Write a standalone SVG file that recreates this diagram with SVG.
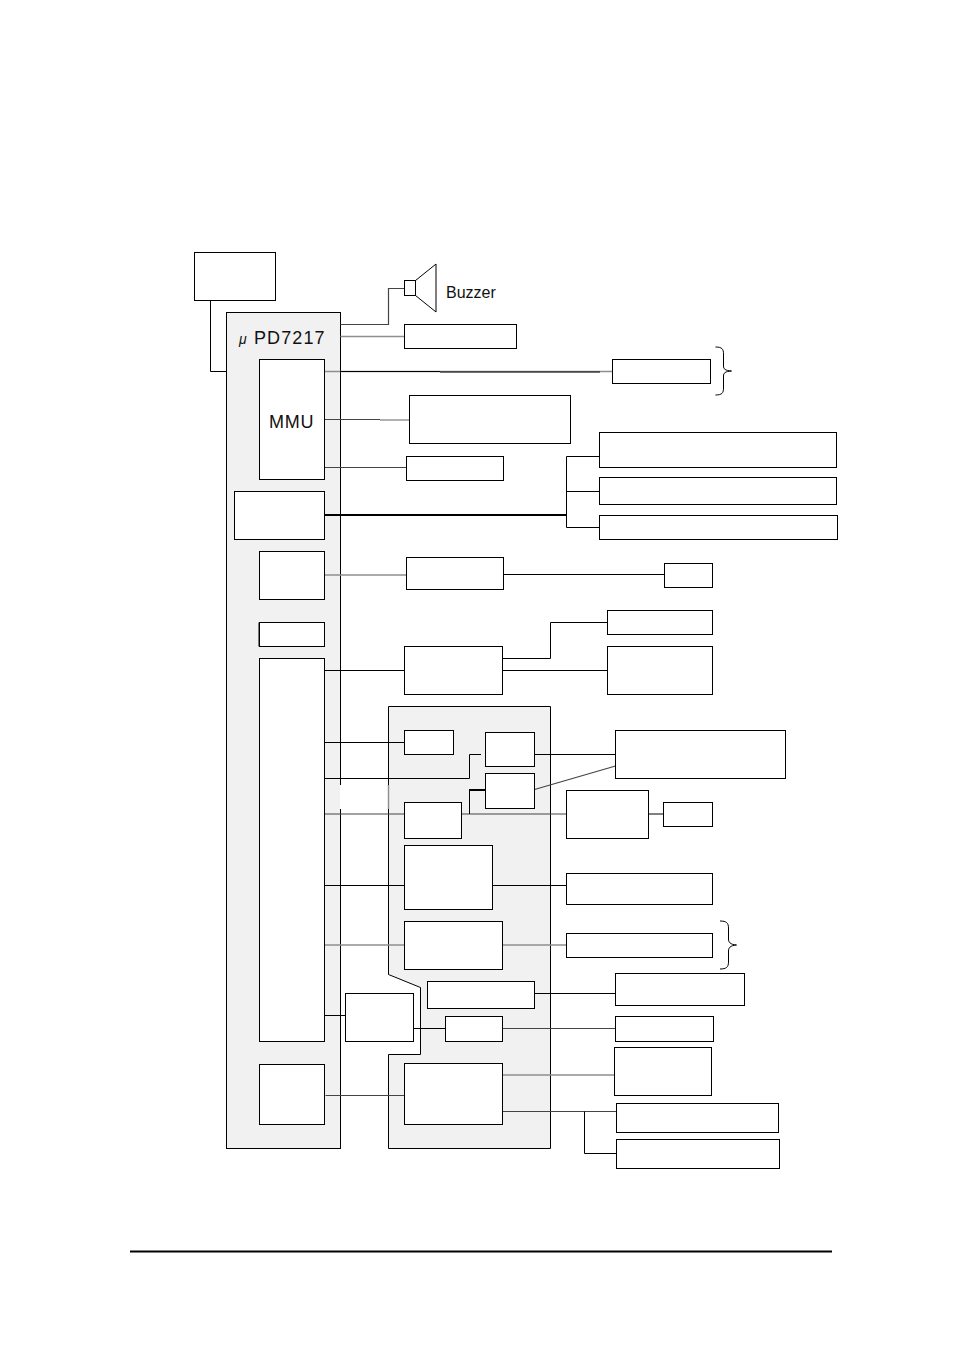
<svg xmlns="http://www.w3.org/2000/svg" width="954" height="1351" viewBox="0 0 954 1351">
<style>
.p{fill:#f1f1f1;stroke:#000;stroke-width:1}
.b{fill:#fff;stroke:#000;stroke-width:1}
.k{fill:none;stroke:#000;stroke-width:1}
.g{fill:none;stroke:#8e8e8e;stroke-width:1.400}
.d{fill:none;stroke:#444;stroke-width:1.200}
.h{fill:none;stroke:#000;stroke-width:2}
text{font-family:"Liberation Sans",Arial,sans-serif;fill:#111}
</style>
<rect width="954" height="1351" fill="#fff"/>
<g id="panels">
<rect id="chip" class="p" x="226.500" y="312.500" width="114" height="836"/>
<path id="asic" class="p" d="M388.500 706.500H550.500V1148.500H388.500V1054.500H420.500V987.500L388.500 974.500Z"/>
<rect x="340" y="785" width="49" height="24" fill="#fff"/>
<path class="g" d="M388.500 785V809"/>
</g>
<g id="connectors">
<path class="k" d="M210.500 300.500V371.500H226.500"/>
<path class="d" d="M340.500 324.500H388.500V288.500H404.500"/>
<path class="g" d="M340.500 336.500H404.500"/>
<path class="g" d="M324.500 371.500H612.500"/>
<path class="k" d="M340 371.500H440M440 372H600"/>
<path class="d" d="M324.500 419.500H380"/>
<path class="g" d="M380 420H409.500"/>
<path class="d" d="M324.500 467.500H406.500"/>
<path class="h" d="M324 515H566.500"/>
<path class="k" d="M599.500 456.500H566.500V527.500H599.500M566.500 491.500H599.500"/>
<path class="g" d="M324.500 575H406.500"/>
<path class="k" d="M502 574.500H664.500"/>
<path class="k" d="M324.500 670.500H404.500"/>
<path class="k" d="M502.500 658.500H550.500V622.500H607.500"/>
<path class="k" d="M502.500 670.500H607.500"/>
<path class="k" d="M324.500 742.500H404.500"/>
<path class="k" d="M324.500 778.500H469.500V754.500H481"/>
<path class="k" d="M534.500 754.500H615.500"/>
<path class="d" d="M534.500 789.500L615.500 766"/>
<path class="d" d="M324.500 814H404.500"/>
<path class="d" d="M461.500 814H566.500"/>
<path class="k" d="M469.500 814V790"/>
<path class="h" d="M469 790H485.500"/>
<path class="k" d="M648.500 814H663.500"/>
<path class="k" d="M324.500 885.500H404.500"/>
<path class="k" d="M492.500 885.500H566.500"/>
<path class="g" d="M324.500 945H404.500"/>
<path class="g" d="M502.500 945H566.500"/>
<path class="k" d="M534.500 993.500H615.500"/>
<path class="k" d="M322.500 1015.500H345.500"/>
<path class="k" d="M413.500 1028.500H445.500"/>
<path class="d" d="M502.500 1028.500H615.500"/>
<path class="g" d="M502.500 1075H614.500"/>
<path class="d" d="M325.500 1095.500H406.500"/>
<path class="d" d="M502.500 1111.500H616.500"/>
<path class="k" d="M584.500 1111.500V1153.500H616.500"/>
</g>
<g id="top-box"><rect class="b" x="194.500" y="252.500" width="81" height="48"/></g>
<g id="buzzer"><rect class="b" x="404.500" y="280.500" width="11" height="15"/><path class="k" d="M415.500 280.500L436 264V312L415.500 295.500"/><text x="446" y="298" font-size="16">Buzzer</text></g>
<g id="chip-label"><text x="239" y="344" font-size="14" font-style="italic" font-family="'Liberation Serif',serif">μ</text><text x="254" y="344" font-size="18" letter-spacing="1.100">PD7217</text></g>
<g id="n1"><rect class="b" x="404.500" y="324.500" width="112" height="24"/></g>
<g id="mmu"><rect class="b" x="259.500" y="359.500" width="65" height="120"/><text x="269" y="428" font-size="18" letter-spacing="0.700">MMU</text></g>
<g id="n2"><rect class="b" x="612.500" y="359.500" width="98" height="24"/></g>
<g id="n3"><rect class="b" x="409.500" y="395.500" width="161" height="48"/></g>
<g id="n4"><rect class="b" x="406.500" y="456.500" width="97" height="24"/></g>
<g id="n5"><rect class="b" x="234.500" y="491.500" width="90" height="48"/></g>
<g id="n6"><rect class="b" x="599.500" y="432.500" width="237" height="35"/></g>
<g id="n7"><rect class="b" x="599.500" y="477.500" width="237" height="27"/></g>
<g id="n8"><rect class="b" x="599.500" y="515.500" width="238" height="24"/></g>
<g id="n9"><rect class="b" x="259.500" y="551.500" width="65" height="48"/></g>
<g id="n10"><rect class="b" x="406.500" y="557.500" width="97" height="32"/></g>
<g id="n11"><rect class="b" x="664.500" y="563.500" width="48" height="24"/></g>
<g id="n12"><rect class="b" x="259.500" y="622.500" width="65" height="24"/><path class="k" d="M259 622.500V646.500"/></g>
<g id="n13"><rect class="b" x="259.500" y="658.500" width="65" height="383"/></g>
<g id="n14"><rect class="b" x="404.500" y="646.500" width="98" height="48"/></g>
<g id="n15"><rect class="b" x="607.500" y="610.500" width="105" height="24"/></g>
<g id="n16"><rect class="b" x="607.500" y="646.500" width="105" height="48"/></g>
<g id="n17"><rect class="b" x="404.500" y="730.500" width="49" height="24"/></g>
<g id="n18"><rect class="b" x="485.500" y="732.500" width="49" height="34"/></g>
<g id="n19"><rect class="b" x="485.500" y="773.500" width="49" height="35"/></g>
<g id="n20"><rect class="b" x="615.500" y="730.500" width="170" height="48"/></g>
<g id="n21"><rect class="b" x="404.500" y="802.500" width="57" height="36"/></g>
<g id="n22"><rect class="b" x="566.500" y="790.500" width="82" height="48"/></g>
<g id="n23"><rect class="b" x="663.500" y="802.500" width="49" height="24"/></g>
<g id="n24"><rect class="b" x="404.500" y="845.500" width="88" height="64"/></g>
<g id="n25"><rect class="b" x="566.500" y="873.500" width="146" height="31"/></g>
<g id="n26"><rect class="b" x="404.500" y="921.500" width="98" height="48"/></g>
<g id="n27"><rect class="b" x="566.500" y="933.500" width="146" height="24"/></g>
<g id="n28"><rect class="b" x="427.500" y="981.500" width="107" height="27"/></g>
<g id="n29"><rect class="b" x="615.500" y="973.500" width="129" height="32"/></g>
<g id="n30"><rect class="b" x="345.500" y="993.500" width="68" height="48"/></g>
<g id="n31"><rect class="b" x="445.500" y="1016.500" width="57" height="25"/></g>
<g id="n32"><rect class="b" x="615.500" y="1016.500" width="98" height="25"/></g>
<g id="n33"><rect class="b" x="614.500" y="1047.500" width="97" height="48"/></g>
<g id="n34"><rect class="b" x="259.500" y="1064.500" width="65" height="60"/></g>
<g id="n35"><rect class="b" x="404.500" y="1063.500" width="98" height="61"/></g>
<g id="n36"><rect class="b" x="616.500" y="1103.500" width="162" height="29"/></g>
<g id="n37"><rect class="b" x="616.500" y="1139.500" width="163" height="29"/></g>
<g id="braces">
<path class="k" d="M715.500 347C722 347 723.500 349 723.500 354V366C723.500 369 725 370.500 731.500 371C725 371.500 723.500 373 723.500 376V388C723.500 393 722 395 715.500 395"/>
<path class="k" d="M720 921C726.500 921 728.500 923 728.500 928V939C728.500 942 730 944.500 736.500 945C730 945.500 728.500 948 728.500 951V962C728.500 967 726.500 969 720 969"/>
</g>
<path id="footer-rule" d="M130 1251.500H832" fill="none" stroke="#000" stroke-width="2"/>
</svg>
